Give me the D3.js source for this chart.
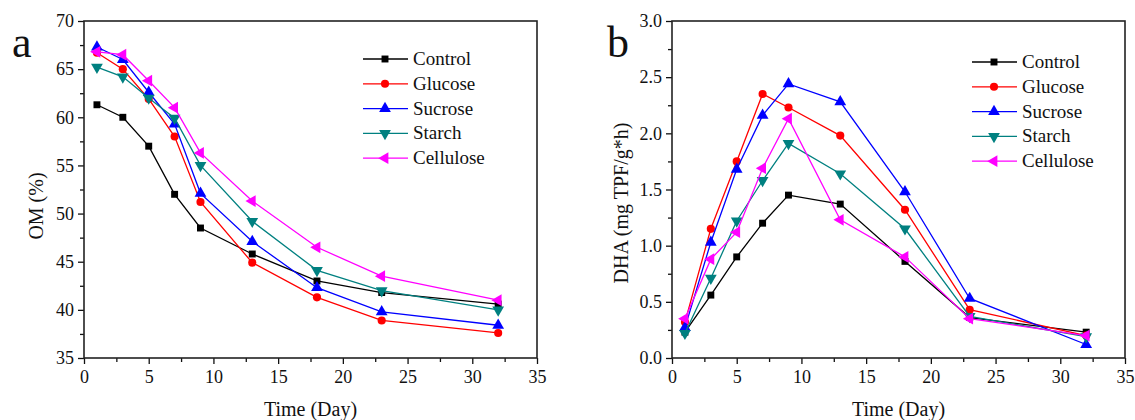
<!DOCTYPE html>
<html>
<head>
<meta charset="utf-8">
<script src="https://cdn.jsdelivr.net/npm/d3@7"></script>
<style>
  body { margin: 0; background: #fff; }
</style>
</head>
<body>
<div id="chart"></div>
<script>
// sampling days
var days = [1, 3, 5, 7, 9, 13, 18, 23, 32];
var seriesNames = ["Control", "Glucose", "Sucrose", "Starch", "Cellulose"];

// panel a: OM (%)
var omControl   = [61.3, 60.0, 57.0, 52.0, 48.5, 45.8, 43.0, 41.8, 40.6];
var omGlucose   = [66.7, 65.0, 61.9, 58.0, 51.2, 44.9, 41.3, 38.9, 37.6];
var omSucrose   = [67.3, 66.0, 62.6, 59.3, 52.1, 47.1, 42.3, 39.8, 38.4];
var omStarch    = [65.2, 64.2, 62.0, 59.9, 55.0, 49.2, 44.1, 42.0, 40.0];
var omCellulose = [66.8, 66.5, 63.8, 61.0, 56.3, 51.3, 46.5, 43.5, 41.0];

// panel b: DHA (mg TPF/g*h)
var dhaControl   = [0.23, 0.56, 0.90, 1.20, 1.45, 1.37, 0.86, 0.36, 0.23];
var dhaGlucose   = [0.32, 1.15, 1.75, 2.35, 2.23, 1.98, 1.32, 0.43, 0.20];
var dhaSucrose   = [0.27, 1.03, 1.68, 2.16, 2.44, 2.28, 1.48, 0.53, 0.12];
var dhaStarch    = [0.22, 0.71, 1.22, 1.58, 1.91, 1.64, 1.15, 0.37, 0.19];
var dhaCellulose = [0.35, 0.88, 1.12, 1.69, 2.13, 1.23, 0.90, 0.35, 0.20];

var xTicks = [0, 5, 10, 15, 20, 25, 30, 35];
var omTicks = [35, 40, 45, 50, 55, 60, 65, 70];
var dhaTicks = [0, 0.5, 1.0, 1.5, 2.0, 2.5, 3.0];

var FONT = "'Liberation Serif', 'Times New Roman', serif";
var colors = ["#000000", "#ff0000", "#0000ff", "#008080", "#ff00ff"];
// symbol type + rotation per series
var shapes = [
    {type: d3.symbolSquare, size: 48, rot: 0},
    {type: d3.symbolCircle, size: 52, rot: 0},
    {type: d3.symbolTriangle, size: 60, rot: 0},
    {type: d3.symbolTriangle, size: 60, rot: 180},
    {type: d3.symbolTriangle, size: 60, rot: -90}
];

var W = 1135, H = 420;
var svg = d3.select("#chart").append("svg")
    .attr("width", W)
    .attr("height", H);

function drawPanel(p) {
    var x = d3.scaleLinear().domain([0, 35]).range([p.left, p.right]);
    var y = d3.scaleLinear().domain(p.yDomain).range([p.bottom, p.top]);
    var g = svg.append("g");

    // minor ticks
    var xMinor = d3.range(2.5, 35, 5);
    g.append("g")
        .attr("transform", "translate(0," + p.bottom + ")")
        .call(d3.axisBottom(x).tickValues(xMinor).tickSize(4).tickSizeOuter(0).tickFormat(""))
        .call(function(a) { a.select(".domain").remove(); });
    g.append("g")
        .attr("transform", "translate(" + p.left + ",0)")
        .call(d3.axisLeft(y).tickValues(p.yMinor).tickSize(4).tickSizeOuter(0).tickFormat(""))
        .call(function(a) { a.select(".domain").remove(); });

    // major ticks
    var xa = g.append("g")
        .attr("transform", "translate(0," + p.bottom + ")")
        .call(d3.axisBottom(x).tickValues(xTicks).tickSize(6).tickSizeOuter(0).tickPadding(6));
    var ya = g.append("g")
        .attr("transform", "translate(" + p.left + ",0)")
        .call(d3.axisLeft(y).tickValues(p.yTicks).tickSize(6).tickSizeOuter(0).tickPadding(4)
            .tickFormat(p.fmt));
    [xa, ya].forEach(function(a) {
        a.attr("font-family", null);
        a.select(".domain").remove();
        a.selectAll("text").attr("font-size", "18px").attr("fill", "#111");
    });
    g.selectAll(".tick line").attr("stroke", "#111").attr("stroke-width", 1.3);

    // frame
    g.append("rect")
        .attr("x", p.left).attr("y", p.top)
        .attr("width", p.right - p.left).attr("height", p.bottom - p.top)
        .attr("fill", "none").attr("stroke", "#222").attr("stroke-width", 1.6);

    var line = d3.line()
        .x(function(d, i) { return x(days[i]); })
        .y(function(d) { return y(d); });

    p.series.forEach(function(vals, k) {
        g.append("path")
            .datum(vals)
            .attr("d", line)
            .attr("fill", "none")
            .attr("stroke", colors[k])
            .attr("stroke-width", 1.3);
        g.selectAll(".m" + k)
            .data(vals)
            .enter().append("path")
            .attr("d", d3.symbol().type(shapes[k].type).size(shapes[k].size))
            .attr("transform", function(d, i) {
                return "translate(" + x(days[i]) + "," + y(d) + ") rotate(" + shapes[k].rot + ")";
            })
            .attr("fill", colors[k]);
    });

    // legend
    var lg = g.append("g");
    seriesNames.forEach(function(name, k) {
        var ly = p.legY + k * 24.8;
        lg.append("line")
            .attr("x1", p.legX).attr("x2", p.legX + 45)
            .attr("y1", ly).attr("y2", ly)
            .attr("stroke", colors[k]).attr("stroke-width", 1.3);
        lg.append("path")
            .attr("d", d3.symbol().type(shapes[k].type).size(shapes[k].size))
            .attr("transform", "translate(" + (p.legX + 22) + "," + ly + ") rotate(" + shapes[k].rot + ")")
            .attr("fill", colors[k]);
        lg.append("text")
            .attr("x", p.legX + 50).attr("y", ly + 6)
            .attr("font-size", "19px")
            .text(name);
    });

    // axis titles
    g.append("text")
        .attr("x", (p.left + p.right) / 2)
        .attr("y", 416)
        .attr("text-anchor", "middle")
        .attr("font-size", "20px")
        .text("Time (Day)");
    g.append("text")
        .attr("transform", "translate(" + p.yTitleX + "," + p.yTitleY + ") rotate(-90)")
        .attr("text-anchor", "middle")
        .attr("font-size", "20px")
        .text(p.yTitle);

    // panel letter
    g.append("text")
        .attr("x", p.letterX).attr("y", 57)
        .attr("font-size", "44px")
        .text(p.letter);
}

drawPanel({
    left: 84, right: 537, top: 21, bottom: 358,
    yDomain: [35, 70], yTicks: omTicks, yMinor: d3.range(37.5, 70, 5),
    fmt: d3.format("d"),
    series: [omControl, omGlucose, omSucrose, omStarch, omCellulose],
    legX: 363, legY: 59,
    yTitle: "OM (%)", yTitleX: 43, yTitleY: 206,
    letter: "a", letterX: 12
});

drawPanel({
    left: 672, right: 1125, top: 21, bottom: 358,
    yDomain: [0, 3], yTicks: dhaTicks, yMinor: d3.range(0.25, 3, 0.5),
    fmt: d3.format(".1f"),
    series: [dhaControl, dhaGlucose, dhaSucrose, dhaStarch, dhaCellulose],
    legX: 972, legY: 62,
    yTitle: "DHA (mg TPF/g*h)", yTitleX: 628, yTitleY: 203,
    letter: "b", letterX: 607
});

svg.selectAll("text")
    .style("font-family", FONT)
    .attr("fill", "#111");
</script>
</body>
</html>
